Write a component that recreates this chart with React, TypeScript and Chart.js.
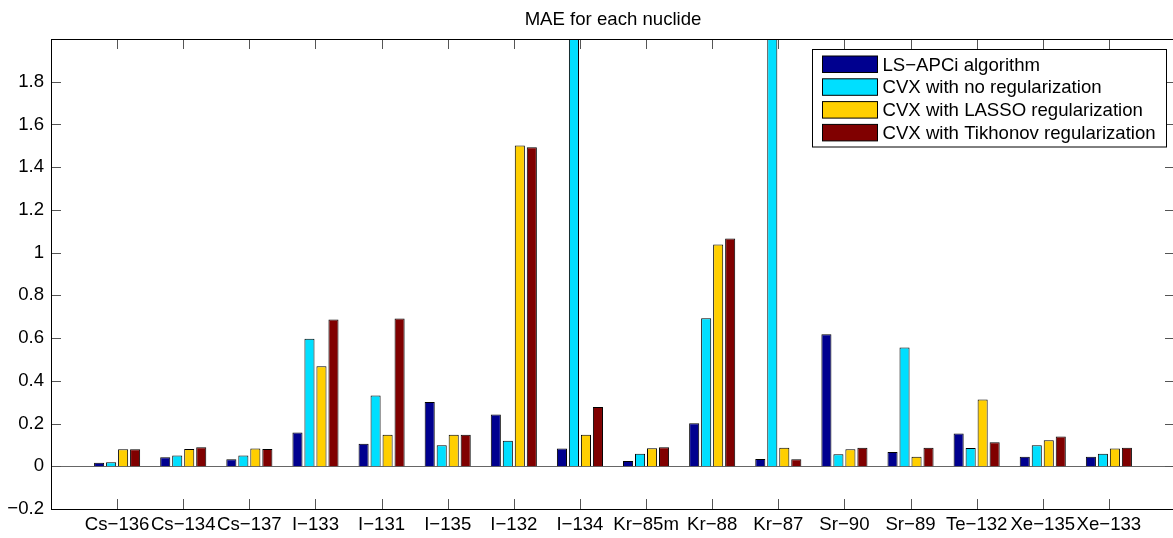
import React, { useEffect, useRef } from "react";
import { Chart, registerables } from "chart.js";

Chart.register(...registerables);

const categories = ["Cs\u2212136", "Cs\u2212134", "Cs\u2212137", "I\u2212133", "I\u2212131", "I\u2212135", "I\u2212132", "I\u2212134", "Kr\u221285m", "Kr\u221288", "Kr\u221287", "Sr\u221290", "Sr\u221289", "Te\u2212132", "Xe\u2212135", "Xe\u2212133"];

const lsApci = [0.017, 0.042, 0.033, 0.158, 0.106, 0.301, 0.242, 0.083, 0.025, 0.201, 0.034, 0.618, 0.067, 0.153, 0.045, 0.045];
const cvxNoReg = [0.019, 0.05, 0.05, 0.597, 0.331, 0.098, 0.12, 2.6, 0.059, 0.693, 2.6, 0.056, 0.556, 0.086, 0.098, 0.059];
const cvxLasso = [0.08, 0.081, 0.083, 0.468, 0.148, 0.148, 1.502, 0.148, 0.084, 1.038, 0.087, 0.08, 0.045, 0.312, 0.122, 0.083];
const cvxTikhonov = [0.08, 0.089, 0.081, 0.687, 0.692, 0.147, 1.493, 0.278, 0.089, 1.066, 0.033, 0.087, 0.087, 0.112, 0.139, 0.087];

const seriesNames = ["LS\u2212APCi algorithm", "CVX with no regularization", "CVX with LASSO regularization", "CVX with Tikhonov regularization"];
const seriesColors = ["#00008F", "#00DFFF", "#FFCF00", "#800000"];

const titleText = "MAE for each nuclide";
const yMin = -0.2;
const yMax = 2.0;
const yStep = 0.2;

const FONT = "18.6px 'Liberation Sans', Arial, Helvetica, sans-serif";

const pad = (arr: (number | null)[]) => [null, ...arr, null];

const matlabPlugin = {
  id: "matlabDecor",
  beforeDatasetsDraw(chart: any) {
    const { ctx, chartArea } = chart;
    const y0 = chart.scales.y.getPixelForValue(0);
    ctx.save();
    ctx.strokeStyle = "#666";
    ctx.lineWidth = 1;
    ctx.beginPath();
    ctx.moveTo(chartArea.left, Math.round(y0) + 0.5);
    ctx.lineTo(chartArea.right, Math.round(y0) + 0.5);
    ctx.stroke();
    ctx.restore();
  },
  afterDraw(chart: any) {
    const { ctx, chartArea } = chart;
    const { left, right, top, bottom } = chartArea;
    const xs = chart.scales.x;
    const ys = chart.scales.y;
    ctx.save();
    // ticks
    ctx.strokeStyle = "#555";
    ctx.lineWidth = 1;
    const tl = 10;
    ctx.beginPath();
    for (let i = 1; i <= categories.length; i++) {
      const px = Math.round(xs.getPixelForValue(i)) + 0.5;
      ctx.moveTo(px, bottom);
      ctx.lineTo(px, bottom - tl);
      ctx.moveTo(px, top);
      ctx.lineTo(px, top + tl);
    }
    for (let v = yMin; v < yMax - 1e-6; v += yStep) {
      const py = Math.round(ys.getPixelForValue(v)) + 0.5;
      ctx.moveTo(left, py);
      ctx.lineTo(left + tl, py);
      ctx.moveTo(right, py);
      ctx.lineTo(right - tl, py);
    }
    ctx.stroke();
    // box
    ctx.strokeStyle = "#000";
    ctx.strokeRect(Math.round(left) + 0.5, Math.round(top) + 0.5, Math.round(right - left), Math.round(bottom - top));
    // title
    ctx.fillStyle = "#000";
    ctx.font = FONT;
    ctx.textAlign = "center";
    ctx.textBaseline = "alphabetic";
    ctx.fillText(titleText, (left + right) / 2, top - 14);
    // legend
    const lx1 = Math.round(right - 9) + 0.5;
    const lx0 = lx1 - 354;
    const ly0 = Math.round(top + 10) + 0.5;
    const rowH = 22.8;
    const lh = 97.5;
    ctx.fillStyle = "#fff";
    ctx.fillRect(lx0, ly0, lx1 - lx0, lh);
    ctx.strokeStyle = "#000";
    ctx.strokeRect(lx0, ly0, lx1 - lx0, lh);
    chart.data.datasets.forEach((ds: any, i: number) => {
      const cy = ly0 + 14.5 + i * rowH;
      ctx.fillStyle = ds.backgroundColor;
      ctx.fillRect(lx0 + 10, cy - 8, 55, 16.5);
      ctx.strokeStyle = "#000";
      ctx.strokeRect(lx0 + 10, cy - 8, 55, 16.5);
      ctx.fillStyle = "#000";
      ctx.textAlign = "left";
      ctx.textBaseline = "alphabetic";
      ctx.fillText(ds.label, lx0 + 70, cy + 6.6);
    });
    ctx.restore();
  },
};

export default function App() {
  const ref = useRef<HTMLCanvasElement | null>(null);
  useEffect(() => {
    if (!ref.current) return;
    const labels = ["", ...categories, ""];
    const all = [lsApci, cvxNoReg, cvxLasso, cvxTikhonov];
    const chart = new Chart(ref.current, {
      type: "bar",
      data: {
        labels,
        datasets: all.map((d, i) => ({
          label: seriesNames[i],
          data: pad(d),
          backgroundColor: seriesColors[i],
          borderColor: "#000",
          borderWidth: 1,
          categoryPercentage: 0.726,
          barPercentage: 0.84,
        })),
      },
      options: {
        responsive: false,
        animation: false,
        layout: { padding: { top: 39, right: 5, left: 0, bottom: 0 } },
        plugins: {
          legend: { display: false },
          title: { display: false },
          tooltip: { enabled: false },
        },
        scales: {
          x: {
            type: "category",
            offset: false,
            grid: { display: false, drawTicks: false },
            border: { display: false },
            ticks: {
              autoSkip: false,
              maxRotation: 0,
              minRotation: 0,
              padding: 5,
              color: "#000",
              font: { family: "'Liberation Sans', Arial, sans-serif", size: 18.6 },
            },
            afterFit: (s: any) => {
              s.height = 29;
            },
          },
          y: {
            min: yMin,
            max: yMax,
            grid: { display: false, drawTicks: false },
            border: { display: false },
            ticks: {
              stepSize: yStep,
              padding: 7,
              color: "#000",
              font: { family: "'Liberation Sans', Arial, sans-serif", size: 18.6 },
              callback: (v: any) => {
                const n = Number(v);
                if (n > yMax - 1e-6) return "";
                const s = String(Number(n.toFixed(1)));
                return s.replace("-", "\u2212");
              },
            },
            afterFit: (s: any) => {
              s.width = 51;
            },
          },
        },
      },
      plugins: [matlabPlugin],
    });
    return () => chart.destroy();
  }, []);
  return (
    <div style={{ position: "fixed", left: 0, top: 0, width: 1173, height: 538, overflow: "hidden", background: "#fff" }}>
      <canvas ref={ref} width={1180} height={538} style={{ display: "block", width: 1180, height: 538 }} />
    </div>
  );
}
